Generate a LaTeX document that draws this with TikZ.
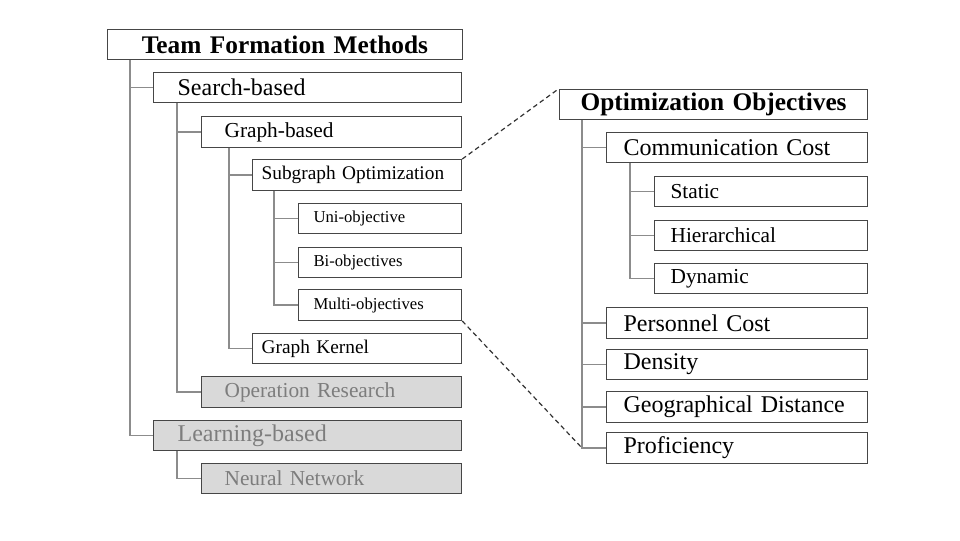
\documentclass[tikz,border=0pt]{standalone}
\usepackage{fontspec}
\setmainfont{Liberation Serif}
\usepackage{tikz}
\usetikzlibrary{arrows}

\definecolor{boxline}{RGB}{70,70,70}
\definecolor{conline}{RGB}{140,140,140}
\definecolor{boxfill}{RGB}{217,217,217}
\definecolor{boxtext}{RGB}{125,125,125}

\tikzset{
  tbox/.style={draw=boxline, line width=0.9pt, anchor=west, minimum height=23pt, inner ysep=0pt, align=left},
  rootbox/.style={tbox, text width=250pt, inner xsep=8pt, align=center, font=\fontsize{19}{21}\selectfont\bfseries},
  lvone/.style={tbox, text width=195pt, inner xsep=18pt, font=\fontsize{18}{20}\selectfont},
  lvtwo/.style={tbox, text width=160.5pt, inner xsep=17.25pt, font=\fontsize{16}{18}\selectfont},
  lvthree/.style={tbox, text width=143.25pt, inner xsep=6.75pt, font=\fontsize{14.5}{16}\selectfont},
  lvfour/.style={tbox, text width=99.75pt, inner xsep=11.25pt, font=\fontsize{12.5}{14}\selectfont},
  objroot/.style={rootbox, text width=215pt},
  objone/.style={tbox, text width=170.25pt, inner xsep=12.75pt, font=\fontsize{18}{20}\selectfont},
  objtwo/.style={tbox, text width=135.75pt, inner xsep=12pt, font=\fontsize{16}{18}\selectfont},
  greyed/.style={fill=boxfill, text=boxtext},
  conn/.style={draw=conline, line width=0.85pt},
  zoomline/.style={draw=black!80, line width=0.9pt, dash pattern=on 3.5pt off 2.5pt}
}

\begin{document}
\begin{tikzpicture}[x=0.75pt, y=-0.75pt]
\useasboundingbox (0,0) rectangle (960,540);
% left tree
\node[rootbox](tfm) at (107,44.5) {Team Formation Methods};
\node[lvone](search) at (153,87.5) {Search-based};
\node[lvtwo](graph) at (201,132) {Graph-based};
\node[lvthree](subg) at (252,175) {Subgraph Optimization};
\node[lvfour](uni) at (298,218.5) {Uni-objective};
\node[lvfour](bi) at (298,262.5) {Bi-objectives};
\node[lvfour](multi) at (298,305) {Multi-objectives};
\node[lvthree](kernel) at (252,348.5) {Graph Kernel};
\node[lvtwo, greyed](opres) at (201,392) {Operation Research};
\node[lvone, greyed](learn) at (153,435.5) {Learning-based};
\node[lvtwo, greyed](neural) at (201,478.5) {Neural Network};
%
\draw[conn]([xshift=17.25pt]tfm.south west) |- (search.west);
\draw[conn]([xshift=17.25pt]tfm.south west) |- (learn.west);
\draw[conn]([xshift=18pt]search.south west) |- (graph.west);
\draw[conn]([xshift=18pt]search.south west) |- (opres.west);
\draw[conn]([xshift=21pt]graph.south west) |- (subg.west);
\draw[conn]([xshift=21pt]graph.south west) |- (kernel.west);
\draw[conn]([xshift=16.5pt]subg.south west) |- (uni.west);
\draw[conn]([xshift=16.5pt]subg.south west) |- (bi.west);
\draw[conn]([xshift=16.5pt]subg.south west) |- (multi.west);
\draw[conn]([xshift=18pt]learn.south west) |- (neural.west);
% right tree
\node[objroot](obj) at (559,104.5) {Optimization Objectives};
\node[objone](comm) at (606,147.5) {Communication Cost};
\node[objtwo](static) at (654,191.5) {Static};
\node[objtwo](hier) at (654,235.5) {Hierarchical};
\node[objtwo](dyn) at (654,278.5) {Dynamic};
\node[objone](person) at (606,323) {Personnel Cost};
\node[objone](dens) at (606,364.5) {Density};
\node[objone](geo) at (606,407) {Geographical Distance};
\node[objone](prof) at (606,448) {Proficiency};
\coordinate(objtrunk) at ([xshift=17.25pt]obj.south west);
%
\draw[conn](objtrunk) |- (comm.west);
\draw[conn](objtrunk) |- (person.west);
\draw[conn](objtrunk) |- (dens.west);
\draw[conn](objtrunk) |- (geo.west);
\draw[conn](objtrunk) |- (prof.west);
\draw[conn]([xshift=18pt]comm.south west) |- (static.west);
\draw[conn]([xshift=18pt]comm.south west) |- (hier.west);
\draw[conn]([xshift=18pt]comm.south west) |- (dyn.west);
% zoom lines
\draw[zoomline](subg.north east) -- (obj.north west);
\draw[zoomline](multi.south east) -- (objtrunk |- prof.west);
\end{tikzpicture}
\end{document}
